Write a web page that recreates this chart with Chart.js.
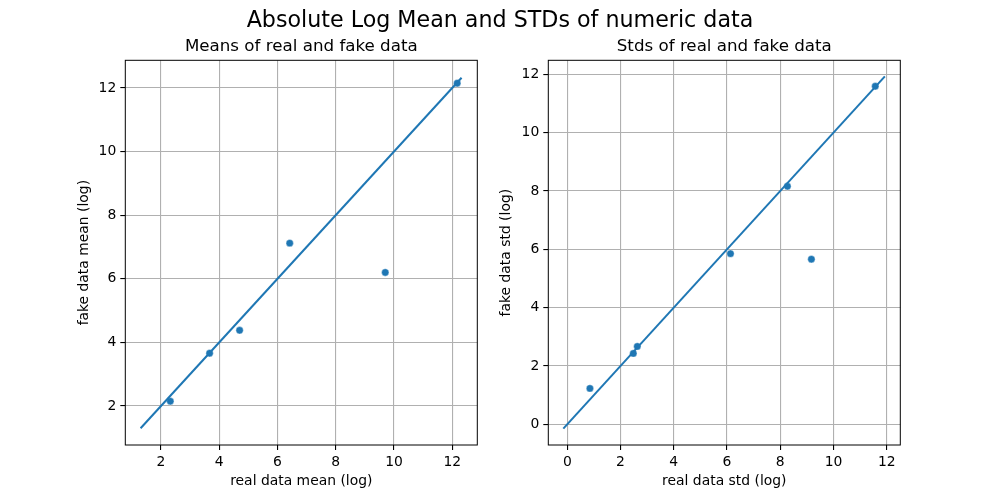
<!DOCTYPE html>
<html>
<head>
<meta charset="utf-8">
<script src="https://cdn.jsdelivr.net/npm/chart.js@4/dist/chart.umd.min.js"></script>
<style>
  body { margin: 0; background: #fff; }
  #wrap { position: relative; width: 1000px; height: 500px; }
  #wrap canvas { position: absolute; left: 0; top: 0; }
</style>
</head>
<body>
<div id="wrap">
  <canvas id="meanChart" width="1000" height="500"></canvas>
  <canvas id="stdChart" width="1000" height="500"></canvas>
</div>
<script>
// values
var meanReal = [2.32, 3.67, 4.70, 6.42, 9.70, 12.17];
var meanFake = [2.15, 3.66, 4.38, 7.12, 6.20, 12.15];
var meanLine = [1.30, 12.32];

var stdReal = [0.85, 2.48, 2.63, 6.13, 8.27, 9.17, 11.57];
var stdFake = [1.23, 2.43, 2.67, 5.85, 8.16, 5.66, 11.59];
var stdLine = [-0.15, 11.93];

var meanTicks = [2, 4, 6, 8, 10, 12];
var stdTicks = [0, 2, 4, 6, 8, 10, 12];

var BLUE = '#1f77b4';
var FONT = 'DejaVu Sans';

function pairs(xs, ys) {
  return xs.map(function(x, i) { return { x: x, y: ys[i] }; });
}

// frame + titles
function framePlugin(title, suptitle) {
  return {
    id: 'frame',
    afterDraw: function(chart) {
      var c = chart.ctx, a = chart.chartArea;
      c.save();
      c.strokeStyle = '#000';
      c.lineWidth = 1;
      c.strokeRect(a.left, a.top, a.right - a.left, a.bottom - a.top);
      c.fillStyle = '#000';
      c.textAlign = 'center';
      c.textBaseline = 'middle';
      c.font = '16.7px ' + FONT;
      c.fillText(title, (a.left + a.right) / 2, 47);
      if (suptitle) {
        c.font = '22.2px ' + FONT;
        c.fillText(suptitle, 500, 21);
      }
      c.restore();
    }
  };
}

function axis(min, max, ticks, label, isY, size) {
  return {
    type: 'linear',
    min: min,
    max: max,
    afterBuildTicks: function(s) {
      s.ticks = ticks.map(function(v) { return { value: v }; });
    },
    afterFit: function(s) {
      if (isY) s.width = size; else s.height = size;
    },
    grid: { color: '#b0b0b0', lineWidth: 1.1, tickColor: '#000', tickLength: 5, drawTicks: true },
    border: { display: false },
    ticks: { color: '#000', font: { family: FONT, size: 13.9 }, padding: 4, maxRotation: 0 },
    title: {
      display: true,
      text: label,
      color: '#000',
      font: { family: FONT, size: 13.9 },
      padding: isY ? { top: 0, bottom: 0 } : { top: 0, bottom: 10 }
    }
  };
}

function makeChart(id, xs, ys, line, xr, yr, ticksX, ticksY, xLabel, yLabel, pad, yw, title, suptitle) {
  return new Chart(document.getElementById(id), {
    type: 'scatter',
    data: {
      datasets: [
        {
          data: pairs(xs, ys),
          backgroundColor: BLUE,
          borderColor: '#fff',
          borderWidth: 0.4,
          pointRadius: 3.7,
          order: 1
        },
        {
          data: pairs(line, line),
          showLine: true,
          borderColor: BLUE,
          borderWidth: 2,
          pointRadius: 0,
          fill: false,
          order: 0
        }
      ]
    },
    options: {
      responsive: false,
      animation: false,
      events: [],
      layout: { padding: pad },
      plugins: { legend: { display: false }, tooltip: { enabled: false } },
      scales: {
        x: axis(xr[0], xr[1], ticksX, xLabel, false, 55),
        y: axis(yr[0], yr[1], ticksY, yLabel, true, yw)
      }
    },
    plugins: [framePlugin(title, suptitle)]
  });
}

makeChart('meanChart', meanReal, meanFake, meanLine,
  [0.775, 12.86], [0.774, 12.87], meanTicks, meanTicks,
  'real data mean (log)', 'fake data mean (log)',
  { left: 76, top: 60.3, right: 522.7, bottom: 0 }, 49.3,
  'Means of real and fake data', 'Absolute Log Mean and STDs of numeric data');

makeChart('stdChart', stdReal, stdFake, stdLine,
  [-0.714, 12.51], [-0.71, 12.48], stdTicks, stdTicks,
  'real data std (log)', 'fake data std (log)',
  { left: 498, top: 60.3, right: 99.7, bottom: 0 }, 50.3,
  'Stds of real and fake data', null);
</script>
</body>
</html>
